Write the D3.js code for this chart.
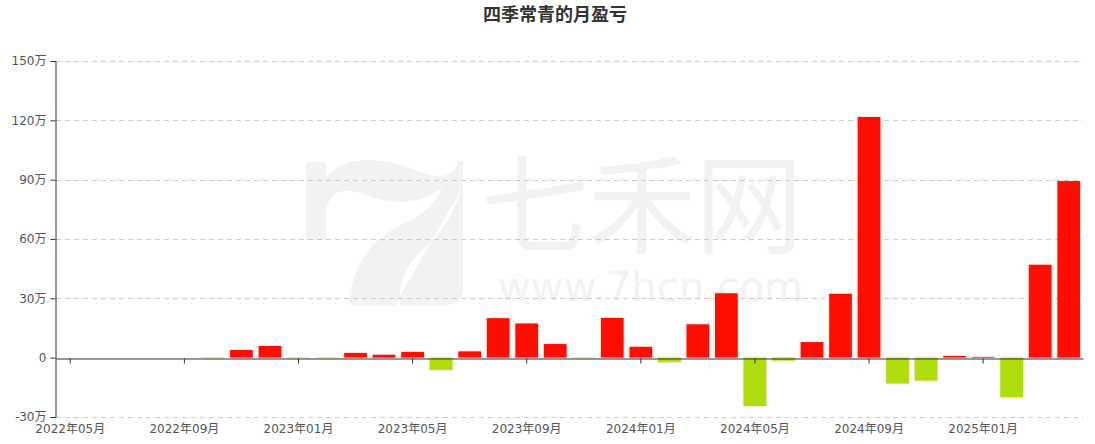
<!DOCTYPE html>
<html>
<head>
<meta charset="utf-8">
<script src="https://cdn.jsdelivr.net/npm/d3@7"></script>
<style>
  html, body { margin: 0; padding: 0; background: #fff; }
  svg { display: block; font-family: "Noto Sans CJK SC", "Microsoft YaHei", sans-serif; }
</style>
</head>
<body>
<svg id="chart" width="1095" height="444"></svg>
<script>
const title = "四季常青的月盈亏";
const months = ["2022年05月","2022年06月","2022年07月","2022年08月","2022年09月","2022年10月","2022年11月","2022年12月",
  "2023年01月","2023年02月","2023年03月","2023年04月","2023年05月","2023年06月","2023年07月","2023年08月",
  "2023年09月","2023年10月","2023年11月","2023年12月","2024年01月","2024年02月","2024年03月","2024年04月",
  "2024年05月","2024年06月","2024年07月","2024年08月","2024年09月","2024年10月","2024年11月","2024年12月",
  "2025年01月","2025年02月","2025年03月","2025年04月"];
// monthly profit/loss, unit: 万
const values = [null,null,null,null,null,-0.1,3.9,5.9,
  -0.3,-0.3,2.4,1.5,2.9,-6.2,3.2,20.0,
  17.3,6.9,-0.3,20.1,5.5,-2.3,16.9,32.6,
  -24.5,-1.5,7.9,32.3,121.7,-13.1,-11.6,0.9,
  0.4,-20.0,47.0,89.3];
const yTicks = [-30,0,30,60,90,120,150];

(function () {
const svg = d3.select("#chart");
const pLeft = 56, pRight = 1083, pTop = 61, pBottom = 417;
const labelFont = "'DejaVu Sans', 'Noto Sans CJK SC', sans-serif";

const x = d3.scaleBand().domain(months).range([pLeft, pRight]).paddingInner(0.2).paddingOuter(0.1);
const y = d3.scaleLinear().domain([-30, 150]).range([pBottom, pTop]);

// watermark
const wm = svg.append("g").attr("fill", "#f2f2f2");
wm.append("rect").attr("x", 306).attr("y", 147).attr("width", 157).attr("height", 158).attr("rx", 16);
wm.append("path").attr("fill", "#fff")
  .attr("d", "M306,162 L326,162 L326,178 C345,152 390,158 420,172 C440,180 455,176 458,162 L463,162 L463,147 L306,147 Z");
wm.append("path").attr("fill", "#fff")
  .attr("d", "M326,240 L326,210 C330,190 345,188 360,193 C385,202 415,210 442,187 C430,215 410,220 395,228 C360,248 350,280 350,305 L306,305 L306,240 Z");
wm.append("path").attr("fill", "#fff")
  .attr("d", "M463,186 C452,220 435,240 420,252 C402,270 398,290 400,305 L395,305 Z");
wm.append("text").attr("x", 481).attr("y", 245).attr("font-size", 108).attr("font-family", "Noto Sans CJK SC")
  .attr("textLength", 322).text("七禾网");
wm.append("text").attr("x", 498).attr("y", 301).attr("font-size", 40).attr("font-family", "DejaVu Sans")
  .attr("textLength", 305).text("www.7hcn.com");

// grid lines
svg.append("g").selectAll("line").data(yTicks.filter(d => d !== 0)).join("line")
  .attr("x1", pLeft).attr("x2", pRight)
  .attr("y1", d => Math.round(y(d)) + 0.5).attr("y2", d => Math.round(y(d)) + 0.5)
  .attr("stroke", "#ccc").attr("stroke-dasharray", "5,4");

// title
svg.append("text").attr("x", 555).attr("y", 21).attr("text-anchor", "middle")
  .attr("font-size", 18).attr("font-weight", "bold").attr("fill", "#333").text(title);

// bars
const defs = svg.append("defs");
const f = defs.append("filter").attr("id", "glow").attr("x", "-20%").attr("y", "-20%").attr("width", "140%").attr("height", "140%");
f.append("feDropShadow").attr("dx", 0).attr("dy", 0).attr("stdDeviation", 1).attr("flood-color", "#ff8080").attr("flood-opacity", 0.5);

const data = months.map((m, i) => ({m, v: values[i]})).filter(d => d.v !== null);
svg.append("g").selectAll("rect").data(data).join("rect")
  .attr("x", d => x(d.m))
  .attr("width", x.bandwidth())
  .attr("y", d => y(Math.max(0, d.v)))
  .attr("height", d => Math.max(0.6, Math.abs(y(d.v) - y(0))))
  .attr("fill", d => d.v >= 0 ? "#ff1100" : "#b0dd10")
  .attr("filter", "url(#glow)");

// y axis
const yAxis = d3.axisLeft(y).tickValues(yTicks).tickSize(5).tickPadding(4)
  .tickFormat(d => d === 0 ? "0" : d + "万");
const ya = svg.append("g").attr("transform", `translate(${pLeft - 0.5},0)`).call(yAxis);
ya.select(".domain").attr("stroke", "#333");
ya.selectAll(".tick line").attr("stroke", "#333");
ya.selectAll(".tick text").attr("fill", "#555").attr("font-size", 12).attr("font-family", labelFont);

// x axis at zero
const labelMonths = months.filter((d, i) => i % 4 === 0);
const xAxis = d3.axisBottom(x).tickValues(labelMonths).tickSize(5).tickSizeOuter(0).tickFormat("");
const xa = svg.append("g").attr("transform", `translate(0,${Math.round(y(0)) + 0.5})`).call(xAxis);
xa.select(".domain").attr("stroke", "#333");
xa.selectAll(".tick line").attr("stroke", "#333");

// x labels at bottom
const xl = d3.axisBottom(x).tickValues(labelMonths).tickSize(0).tickPadding(7);
const xb = svg.append("g").attr("transform", `translate(0,${pBottom})`).call(xl);
xb.select(".domain").remove();
xb.selectAll(".tick text").attr("fill", "#555").attr("font-size", 12).attr("font-family", labelFont);
})();
</script>
</body>
</html>
